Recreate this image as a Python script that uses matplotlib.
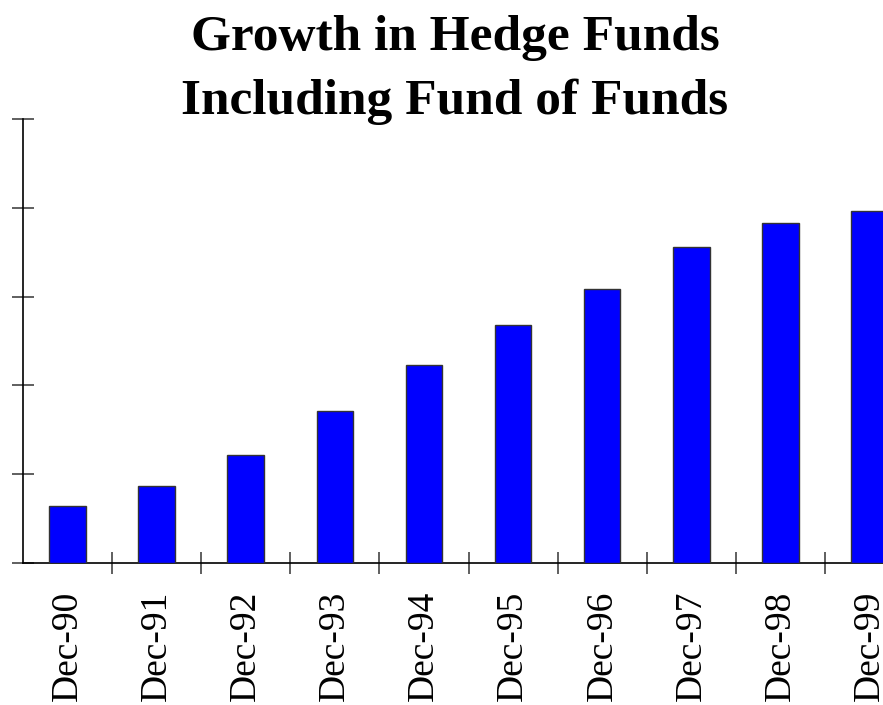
import numpy as np
import matplotlib
matplotlib.use('Agg')
import matplotlib.pyplot as plt

# number of funds (axis has no labels, ticks every 1000)
years = ['Dec-90', 'Dec-91', 'Dec-92', 'Dec-93', 'Dec-94',
         'Dec-95', 'Dec-96', 'Dec-97', 'Dec-98', 'Dec-99']
funds = [638, 864, 1216, 1712, 2235, 2681, 3086, 3559, 3832, 3964]
yticks = [0, 1000, 2000, 3000, 4000, 5000]

plt.rcParams['font.family'] = ['Liberation Serif', 'DejaVu Serif']

fig = plt.figure(figsize=(8.83, 7.05), dpi=100)
W, H = 883, 705
# axes runs off the right edge, like the original
ax = fig.add_axes([23 / W, (H - 563) / H, (914 - 23) / W, (563 - 119) / H])

x = np.arange(len(years))
ax.bar(x, funds, width=0.41, color='#0000ff', edgecolor='#333333', linewidth=1.0, zorder=3)

ax.set_xlim(-0.5, len(years) - 0.5)
ax.set_ylim(0, 5000)

for s in ['top', 'right']:
    ax.spines[s].set_visible(False)
for s in ['left', 'bottom']:
    ax.spines[s].set_linewidth(1.2)
    ax.spines[s].set_color('black')

ax.set_yticks(yticks)
ax.set_yticklabels([])
ax.tick_params(axis='y', direction='inout', length=16, width=1.2, color='#444444')

# boundary ticks as major, labels on minor ticks at bar centres
ax.set_xticks(np.arange(len(years)) + 0.5)
ax.set_xticklabels([])
ax.tick_params(axis='x', which='major', direction='inout', length=16, width=1.2, color='#444444')
ax.set_xticks(x, minor=True)
ax.set_xticklabels(years, minor=True, rotation=90, fontsize=27)
ax.tick_params(axis='x', which='minor', length=0, pad=20)

fig.text(455 / W, 1 - 50 / H, 'Growth in Hedge Funds', ha='center', va='baseline',
         fontsize=37, fontweight='bold')
fig.text(455 / W, 1 - 114 / H, 'Including Fund of Funds', ha='center', va='baseline',
         fontsize=37, fontweight='bold')

fig.savefig('out.png', dpi=100)
